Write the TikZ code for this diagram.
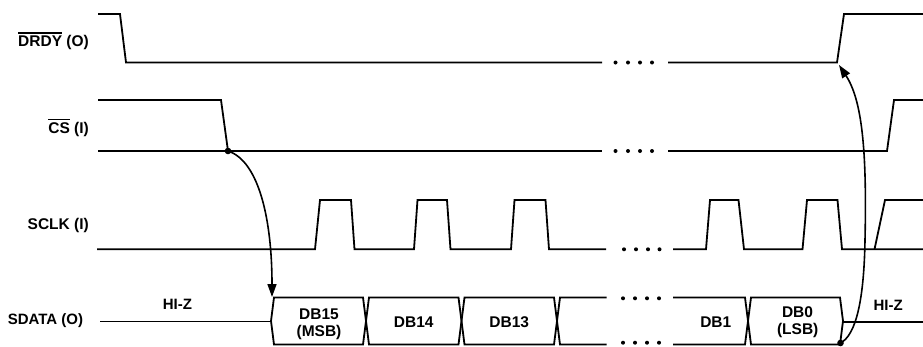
\documentclass[tikz,border=0pt]{standalone}
\usepackage{fontspec}
\setmainfont{Liberation Sans}
\usetikzlibrary{arrows.meta}
\newcommand\olbar[1]{\setbox0=\hbox{#1}\rlap{\rule[\dimexpr\ht0+2.4pt\relax]{\wd0}{1.3pt}}\box0\relax}
\tikzset{
  wave/.style={line width=1.8pt},
  lbl/.style={font=\fontsize{15.5}{17}\selectfont\bfseries, inner sep=0pt, anchor=base east},
  dtxt/.style={font=\fontsize{15.5}{17}\selectfont\bfseries, inner sep=0pt, anchor=base},
  hiz/.style={font=\fontsize{15}{17}\selectfont\bfseries, inner sep=0pt, anchor=base west},
  cause/.style={line width=1.6pt, -{Triangle[length=13pt,width=9pt]}},
}
\begin{document}
\begin{tikzpicture}[x=1pt,y=-1pt]
\useasboundingbox (0,0) rectangle (923,346);
% labels
\node[lbl] (drdy) at (89,46.7) {\olbar{DRDY} (O)};
\node[lbl] (cs) at (89,133.3) {\olbar{CS} (I)};
\node[lbl] (sclk) at (89,229.3) {SCLK (I)};
\node[lbl,font=\fontsize{15}{17}\selectfont\bfseries] (sdata) at (83.3,324) {SDATA (O)};
% DRDY
\draw[wave] (98,14) -- (120,14) -- (126,62.5) -- (602,62.5);
\draw[wave] (668,62.5) -- (837,62.5) -- (844,14) -- (923,14);
\foreach \x in {615.5,628,640,652} \fill (\x,62.5) circle (2pt);
% CS
\draw[wave] (98,100) -- (221,100) -- (228,151);
\draw[wave] (98,151) -- (602,151);
\draw[wave] (668,151) -- (887,151) -- (894,100) -- (923,100);
\foreach \x in {615.5,628,640,652} \fill (\x,151) circle (2pt);
% SCLK
\draw[wave] (97,249.3) -- (315,249.3) -- (320,200) -- (351,200) -- (354.5,249.3)
  -- (414,249.3) -- (417.5,200) -- (447,200) -- (450.5,249.3)
  -- (511,249.3) -- (514.5,200) -- (545.5,200) -- (549,249.3) -- (606,249.3);
\draw[wave] (673,249.3) -- (706,249.3) -- (710,200) -- (738.5,200) -- (744,249.3)
  -- (802.5,249.3) -- (807,200) -- (837.5,200) -- (842,249.3) -- (923,249.3);
\draw[wave] (874.5,249.3) -- (885,200) -- (923,200);
\foreach \x in {624,636,648,659.5} \fill (\x,249.3) circle (2pt);
% SDATA
\def\T{297.5}\def\B{344.5}\def\M{321}
\draw[wave] (100,321.5) -- (271,321.5);
\foreach \a/\b in {271/366,366/461.5,461.5/557,748/843}
  \draw[wave] (\a+3,\T) -- (\b-3,\T) -- (\b,\M) -- (\b-3,\B) -- (\a+3,\B) -- (\a,\M) -- cycle;
\draw[wave] (606.5,\T) -- (560,\T) -- (557,\M) -- (560,\B) -- (606.5,\B);
\draw[wave] (673,\T) -- (745,\T) -- (748,\M) -- (745,\B) -- (673,\B);
\draw[wave] (843,322) -- (923,322);
\foreach \x in {623,635,647,659} {\fill (\x,298.3) circle (2pt); \fill (\x,342.7) circle (2pt);}
% texts
\node[hiz] (hz1) at (162.7,309) {HI-Z};
\node[hiz] (hz2) at (873.3,310.7) {HI-Z};
\node[dtxt] (db15) at (319,319.3) {DB15};
\node[dtxt] (msb) at (319,336.7) {(MSB)};
\node[dtxt] (db14) at (413.7,327.3) {DB14};
\node[dtxt] (db13) at (509.3,327.3) {DB13};
\node[dtxt] (db1) at (715.8,327.7) {DB1};
\node[dtxt] (db0) at (797.5,317.7) {DB0};
\node[dtxt] (lsb) at (797.7,334.3) {(LSB)};
% causality arrows
\coordinate (csfall) at (228,151);
\coordinate (busstart) at (272,297);
\coordinate (db0end) at (840.5,343);
\coordinate (drdyrise) at (839,65);
\fill (csfall) circle (3.3pt);
\fill (db0end) circle (3.3pt);
\draw[cause] (csfall) .. controls (259,161) and (272,220) .. (busstart);
\draw[cause] (db0end) .. controls (856,335) and (864,300) .. (865,240)
  .. controls (867,150) and (862,100) .. (drdyrise);
\end{tikzpicture}
\end{document}
